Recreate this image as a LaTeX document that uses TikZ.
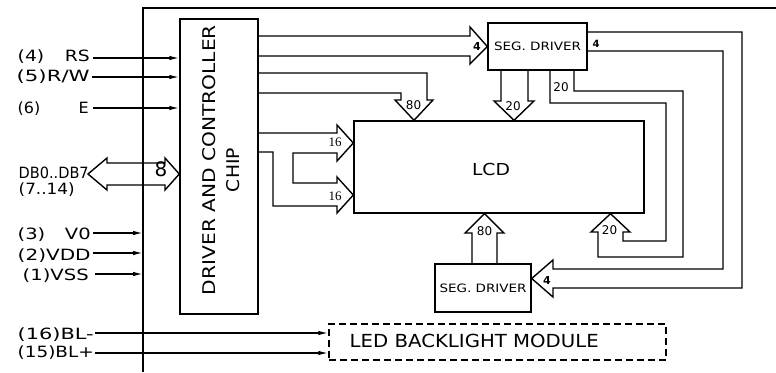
\documentclass[tikz,border=0pt]{standalone}
\usepackage{fontspec}
\setmainfont{DejaVu Sans}
\newfontfamily\serifnum{Liberation Serif}
\usetikzlibrary{arrows.meta}
\newcommand\fw[2]{\resizebox{#1}{\height}{#2}}
\begin{document}
\begin{tikzpicture}[x=1pt,y=-1pt,line width=1.4pt,line join=miter,
  box/.style={draw,rectangle,inner sep=0pt},
  lab/.style={font=\fontsize{15.5}{15.5}\selectfont,inner sep=0pt,anchor=base west},
  num/.style={font=\fontsize{12}{12}\selectfont,inner sep=0pt},
  sig/.style={-{Latex[length=10pt,width=4.5pt]}},
  segtxt/.style={font=\fontsize{11.5}{11.5}\selectfont}]
\useasboundingbox (0,0) rectangle (776,372);
% frame
\coordinate (fl) at (143,8);
\coordinate (fr) at (776,8);
\draw (fr) -- (fl) -- (fl |- 0,372);
% boxes
\node[box,minimum width=78pt,minimum height=295pt] (chip) at (219,166.5) {};
\node[box,minimum width=99pt,minimum height=47pt,segtxt] (seg1) at (537.5,46.5) {\fw{87pt}{SEG. DRIVER}};
\node[box,minimum width=290pt,minimum height=92pt] (lcd) at (499,167) {};
\node[box,minimum width=96pt,minimum height=48pt,segtxt] (seg2) at (483,288) {\fw{87pt}{SEG. DRIVER}};
\node[box,dashed,dash pattern=on 7pt off 4pt,minimum width=337pt,minimum height=36pt] (led) at (497.5,342) {};
% box texts
\node[rotate=90,anchor=base,inner sep=0pt,font=\fontsize{17.5}{17.5}\selectfont] (ct1) at (215,160) {\fw{270pt}{DRIVER AND CONTROLLER}};
\node[rotate=90,anchor=base,inner sep=0pt,font=\fontsize{17.5}{17.5}\selectfont] (ct2) at (239,170) {\fw{44pt}{CHIP}};
\node[inner sep=0pt,font=\fontsize{16.5}{16.5}\selectfont] (lcdt) at (491,169) {\fw{38pt}{LCD}};
\node[inner sep=0pt,anchor=base west,font=\fontsize{18}{18}\selectfont] (ledt) at (349,347) {\fw{249pt}{LED BACKLIGHT MODULE}};
% left labels
\node[lab] (lrs) at (17,61) {\fw{72pt}{(4)\hspace{1.1em}RS}};
\node[lab] (lrw) at (16,81) {\fw{73pt}{(5)R/W}};
\node[lab] (le) at (17,113) {\fw{71pt}{(6)\hspace{2.4em}E}};
\node[lab] (ldb) at (18,178) {\fw{70pt}{DB0..DB7}};
\node[lab] (ldbn) at (18,194) {\fw{56pt}{(7..14)}};
\node[lab] (lv0) at (17,239) {\fw{73pt}{(3)\hspace{1em}V0}};
\node[lab] (lvdd) at (17,260) {\fw{73pt}{(2)VDD}};
\node[lab] (lvss) at (22,280) {\fw{66pt}{(1)VSS}};
\node[lab] (lblm) at (17,339) {\fw{76pt}{(16)BL-}};
\node[lab] (lblp) at (17,357) {\fw{76pt}{(15)BL+}};
% signal lines
\draw[sig] ([xshift=3pt]lrs.east |- 0,58) -- (chip.west |- 0,58);
\draw[sig] ([xshift=2pt]lrw.east |- 0,77) -- (chip.west |- 0,77);
\draw[sig] ([xshift=4pt]le.east |- 0,108) -- (chip.west |- 0,108);
\draw[sig] ([xshift=2pt]lv0.east |- 0,233) -- (fl |- 0,233);
\draw[sig] ([xshift=2pt]lvdd.east |- 0,253) -- (fl |- 0,253);
\draw[sig] ([xshift=6pt]lvss.east |- 0,274) -- (fl |- 0,274);
\draw[sig] ([xshift=1pt]lblm.east |- 0,333) -- (led.west |- 0,333);
\draw[sig] ([xshift=1pt]lblp.east |- 0,353) -- (led.west |- 0,353);
% data bus double arrow
\draw (88,174) -- (107,158) -- (107,163) -- (165,163) -- (165,158) -- (chip.west |- 0,174)
  -- (165,190) -- (165,185) -- (107,185) -- (107,190) -- cycle;
\node[inner sep=0pt,font=\fontsize{20}{20}\selectfont] (n8) at (161,169) {8};
% chip -> seg1 (4)
\draw (chip.east |- 0,36) -- (470,36) -- (470,27) -- (seg1.west) -- (470,64) -- (470,56) -- (chip.east |- 0,56);
\node[num,font=\bfseries\fontsize{11}{11}\selectfont] at (477,46) {4};
% chip -> lcd (80)
\draw (chip.east |- 0,73) -- (427,73) -- (427,100) -- (433,100) -- (lcd.north -| 414,0) -- (395,100) -- (401,100) -- (401,93) -- (chip.east |- 0,93);
\node[num] at (413.5,105) {80};
% seg1 -> lcd (20)
\draw (seg1.south -| 501,0) -- (501,101) -- (494,101) -- (lcd.north -| 514,0) -- (534,101) -- (528,101) -- (seg1.south -| 528,0);
\node[num] at (513,106.5) {20};
% chip -> lcd (16, 16)
\draw (chip.east |- 0,133) -- (337,133) -- (337,125) -- (lcd.west |- 0,143) -- (337,161) -- (337,153)
  -- (293,153) -- (293,183) -- (337,183) -- (337,177) -- (lcd.west |- 0,195) -- (337,213) -- (337,206)
  -- (273,206) -- (273,152) -- (chip.east |- 0,152);
\node[num,font=\serifnum\fontsize{13}{13}\selectfont] at (335,142.5) {16};
\node[num,font=\serifnum\fontsize{13}{13}\selectfont] at (335,196.5) {16};
% seg1 -> seg2 (4)
\draw (seg1.east |- 0,32) -- (742,32) -- (742,288) -- (553,288) -- (553,297) -- (seg2.east |- 0,278.5)
  -- (553,260) -- (553,269) -- (723,269) -- (723,51) -- (seg1.east |- 0,51);
\node[num,font=\bfseries\fontsize{10}{10}\selectfont] at (596,43.5) {4};
\node[num,font=\bfseries\fontsize{11}{11}\selectfont] at (547,280) {4};
% seg1 -> lcd bottom (20)
\draw (seg1.south -| 550,0) -- (550,103) -- (666,103) -- (666,241) -- (623,241) -- (623,232) -- (630,232)
  -- (lcd.south -| 610.5,0) -- (591,232) -- (598,232) -- (598,257) -- (683,257) -- (683,91) -- (574,91) -- (seg1.south -| 574,0);
\node[num] at (561,87) {20};
\node[num] at (609.5,230.5) {20};
% seg2 -> lcd (80)
\draw (seg2.north -| 472,0) -- (472,233) -- (465,233) -- (lcd.south -| 484.5,0) -- (504,233) -- (497,233) -- (seg2.north -| 497,0);
\node[num] at (484.5,231) {80};
\end{tikzpicture}
\end{document}
